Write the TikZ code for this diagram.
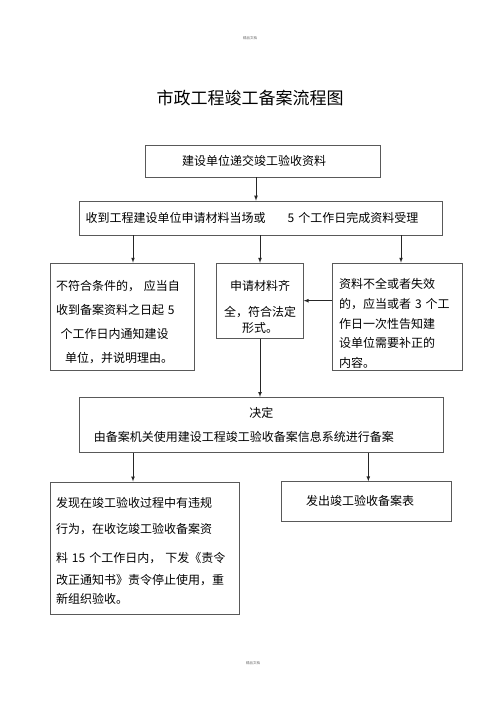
\documentclass[tikz,border=0pt]{standalone}
\usepackage{fontspec}
\setmainfont{Noto Sans CJK SC}
\usepackage{tikz}

\begin{document}
\begin{tikzpicture}[x=1pt,y=-1pt]
\useasboundingbox (0,0) rectangle (500,708);
\tikzstyle{box}=[draw=black!65,line width=0.7pt,inner sep=0pt,font=\fontsize{12}{24}\selectfont]
\tikzstyle{flow}=[->,>=latex,line width=0.7pt,color=black!85]

\node[font=\fontsize{3.5}{4}\selectfont,color=black!60] (hdr) at (250,38) {精品文档};
\node[font=\fontsize{17}{20}\selectfont] (title) at (250,98) {市政工程竣工备案流程图};

\node[box,minimum width=235pt,minimum height=32pt] (submit) at (262.5,161) {建设单位递交竣工验收资料\hspace*{17pt}};
\node[box,minimum width=363.4pt,minimum height=34pt,inner xsep=6.4pt,text width=350.6pt,align=left] (accept) at (261,218) {收到工程建设单位申请材料当场或\hspace{22pt}5 个工作日完成资料受理};

% rules push the first line down a little
\node[box,minimum width=143.6pt,minimum height=107pt,inner xsep=5.3pt,text width=133pt,align=left] (reject) at (122.5,316.5) {\rule{0pt}{20.5pt}不符合条件的， 应当自\\收到备案资料之日起 5\\\hspace*{4.7pt}个工作日内通知建设\\\hspace*{9pt}单位，并说明理由。};
\node[box,minimum width=86.6pt,minimum height=75pt,text width=80pt,align=center] (complete) at (260,300.7) {\rule{0pt}{22.5pt}申请材料齐\\[2pt]全，符合法定\\[-8pt]形式。};
\node[box,minimum width=130.4pt,minimum height=107pt,inner xsep=6.7pt,text width=117pt,align=left,font=\fontsize{12}{19.6}\selectfont] (supplement) at (397.5,316.5) {\rule{0pt}{24pt}资料不全或者失效\\的，应当或者 3 个工\\作日一次性告知建\\设单位需要补正的\\内容。};

\node[box,minimum width=364pt,minimum height=55.4pt,inner xsep=7.5pt,text width=349pt,align=left,font=\fontsize{12}{23.5}\selectfont] (decide) at (261.3,425) {\makebox[\linewidth]{决定}\\\hspace*{7pt}由备案机关使用建设工程竣工验收备案信息系统进行备案};

\node[box,minimum width=188.6pt,minimum height=132.3pt,inner xsep=5.3pt,text width=178pt,align=left] (violate) at (145,548) {\rule{0pt}{16.5pt}发现在竣工验收过程中有违规\\[2pt]行为，在收讫竣工验收备案资\\[4.4pt]料 15 个工作日内， 下发《责令\\[-1.7pt]改正通知书》责令停止使用，重\\[-4.7pt]新组织验收。};
\node[box,minimum width=170pt,minimum height=39.3pt] (issue) at (366.7,501.3) {发出竣工验收备案表\hspace*{13pt}};

\node[font=\fontsize{3.5}{4}\selectfont,color=black!60] (ftr) at (253,663) {精品文档};

\draw[flow] ([xshift=-6.5pt]submit.south) to ([xshift=-6.5pt]submit.south |- accept.north);
\draw[flow] ([xshift=10.5pt]reject.north |- accept.south) to ([xshift=10.5pt]reject.north);
\draw[flow] (complete.north |- accept.south) to (complete.north);
\draw[flow] ([xshift=3.5pt]supplement.north |- accept.south) to ([xshift=3.5pt]supplement.north);
\draw[flow] (supplement.west |- complete.east) to (complete.east);
\draw[flow] (complete.south) to (complete.south |- decide.north);
\draw[flow] ([xshift=-12pt]violate.north |- decide.south) to ([xshift=-12pt]violate.north);
\draw[flow] ([xshift=1.6pt]issue.north |- decide.south) to ([xshift=1.6pt]issue.north);
\end{tikzpicture}
\end{document}
